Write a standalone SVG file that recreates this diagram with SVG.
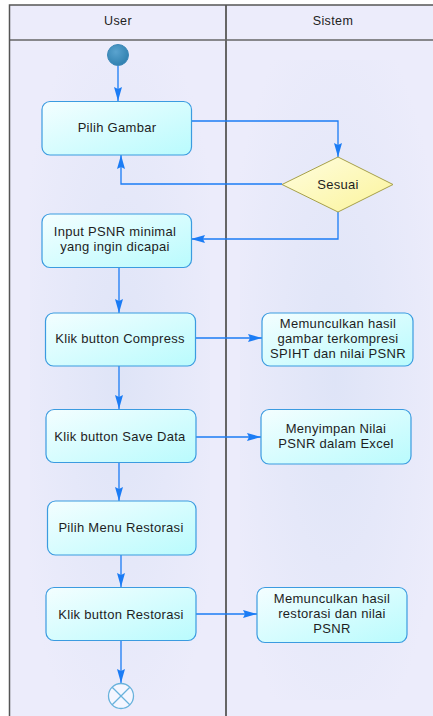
<svg xmlns="http://www.w3.org/2000/svg" width="433" height="716" viewBox="0 0 433 716">
  <defs>
    <linearGradient id="actFill" x1="0" y1="0" x2="1" y2="1">
      <stop offset="0" stop-color="#f4feff"/>
      <stop offset="1" stop-color="#b9fbfd"/>
    </linearGradient>
    <linearGradient id="decFill" x1="0" y1="0" x2="1" y2="1">
      <stop offset="0" stop-color="#fffde0"/>
      <stop offset="1" stop-color="#fbf49a"/>
    </linearGradient>
    <radialGradient id="startFill" cx="0.4" cy="0.35" r="0.7">
      <stop offset="0" stop-color="#5aa3cf"/>
      <stop offset="1" stop-color="#2e7fae"/>
    </radialGradient>
    <radialGradient id="laneShade" cx="0.5" cy="0.5" r="0.6">
      <stop offset="0" stop-color="#dbe2f6"/>
      <stop offset="1" stop-color="#ececfb"/>
    </radialGradient>
    <marker id="arrow" viewBox="0 0 14 8" refX="14" refY="4" markerWidth="14" markerHeight="8" markerUnits="userSpaceOnUse" orient="auto">
      <path d="M0,0 L14,4 L0,8 L2,4 Z" fill="#1b7cf5"/>
    </marker>
    <style>
      .lane { fill: #ececfb; }
      .hdr { fill: #ececfb; }
      .frame { fill: none; stroke: #555; stroke-width: 1.5; }
      .div { stroke: #666; stroke-width: 2; }
      .act { fill: url(#actFill); stroke: #3b9be0; stroke-width: 1.2; }
      .dec { fill: url(#decFill); stroke: #a6a04a; stroke-width: 1; }
      .lbl { font-family: "Liberation Sans", Arial, sans-serif; font-size: 13px; fill: #1e1e1e; text-anchor: middle; letter-spacing: 0.3px; }
      .hlbl { font-family: "Liberation Sans", Arial, sans-serif; font-size: 12.5px; fill: #222; text-anchor: middle; letter-spacing: 0.4px; }
      .conn { fill: none; stroke: #1b7cf5; stroke-width: 1.3; marker-end: url(#arrow); }
    </style>
  </defs>

  <!-- swimlanes -->
  <g id="lanes">
    <rect x="9" y="5" width="430" height="715" class="lane"/>
    <rect x="30" y="60" width="180" height="640" fill="url(#laneShade)" opacity="0.8"/>
    <rect x="240" y="60" width="190" height="640" fill="url(#laneShade)" opacity="0.8"/>
    <rect x="9" y="5" width="430" height="35" class="hdr"/>
    <line x1="9" y1="40" x2="433" y2="40" stroke="#666" stroke-width="1.5"/>
    <line x1="226" y1="5" x2="226" y2="716" class="div"/>
    <path d="M433,5 H9.5 V716" class="frame"/>
    <text x="118" y="25" class="hlbl">User</text>
    <text x="333" y="25" class="hlbl">Sistem</text>
  </g>

  <!-- connectors -->
  <g id="connectors">
    <path d="M118,66 V101" class="conn"/>
    <path d="M191,121 H338 V157" class="conn"/>
    <path d="M282,184 H121 V155" class="conn"/>
    <path d="M338,212 V239 H191" class="conn"/>
    <path d="M119,268 V313" class="conn"/>
    <path d="M196,338 H262" class="conn"/>
    <path d="M119,366 V409" class="conn"/>
    <path d="M196,437 H261" class="conn"/>
    <path d="M119,463 V501" class="conn"/>
    <path d="M121,555 V587" class="conn"/>
    <path d="M196,614 H257" class="conn"/>
    <path d="M121,641 V683" class="conn"/>
  </g>

  <g id="start">
    <circle cx="118" cy="55" r="10.5" fill="url(#startFill)" stroke="#3d88b8" stroke-width="1"/>
  </g>

  <g id="pilih-gambar">
    <rect x="42" y="101.5" width="149.5" height="53.5" rx="8" class="act"/>
    <text x="117" y="132" class="lbl">Pilih Gambar</text>
  </g>

  <g id="sesuai">
    <polygon points="338,157 393,184.5 338,212 282,184.5" class="dec"/>
    <text x="338" y="189" class="lbl">Sesuai</text>
  </g>

  <g id="input-psnr">
    <rect x="42" y="214" width="149.5" height="53.5" rx="8" class="act"/>
    <text x="115" y="236" class="lbl">Input PSNR minimal</text>
    <text x="115" y="251" class="lbl">yang ingin dicapai</text>
  </g>

  <g id="klik-compress">
    <rect x="45.5" y="313" width="150" height="53" rx="8" class="act"/>
    <text x="120" y="343" class="lbl">Klik button Compress</text>
  </g>

  <g id="hasil-kompresi">
    <rect x="262" y="313" width="151" height="53" rx="8" class="act"/>
    <text x="338" y="328" class="lbl">Memunculkan hasil</text>
    <text x="338" y="343" class="lbl">gambar terkompresi</text>
    <text x="338" y="358" class="lbl">SPIHT dan nilai PSNR</text>
  </g>

  <g id="klik-save">
    <rect x="46" y="409.5" width="150" height="53" rx="8" class="act"/>
    <text x="120" y="441" class="lbl">Klik button Save Data</text>
  </g>

  <g id="simpan-excel">
    <rect x="261" y="409.5" width="150" height="54.5" rx="8" class="act"/>
    <text x="336" y="433" class="lbl">Menyimpan Nilai</text>
    <text x="336" y="448" class="lbl">PSNR dalam Excel</text>
  </g>

  <g id="pilih-menu-restorasi">
    <rect x="47.5" y="501" width="148.5" height="54" rx="8" class="act"/>
    <text x="121" y="532" class="lbl">Pilih Menu Restorasi</text>
  </g>

  <g id="klik-restorasi">
    <rect x="46" y="587.5" width="150" height="53" rx="8" class="act"/>
    <text x="121" y="619" class="lbl">Klik button Restorasi</text>
  </g>

  <g id="hasil-restorasi">
    <rect x="257" y="587.5" width="150" height="55" rx="8" class="act"/>
    <text x="332" y="603" class="lbl">Memunculkan hasil</text>
    <text x="332" y="618" class="lbl">restorasi dan nilai</text>
    <text x="332" y="633" class="lbl">PSNR</text>
  </g>

  <g id="end">
    <circle cx="121" cy="696" r="12.5" fill="#f4f6ff" stroke="#68b2dc" stroke-width="1.3"/>
    <path d="M112.2,687.2 L129.8,704.8 M129.8,687.2 L112.2,704.8" stroke="#68b2dc" stroke-width="1.3"/>
  </g>
</svg>
